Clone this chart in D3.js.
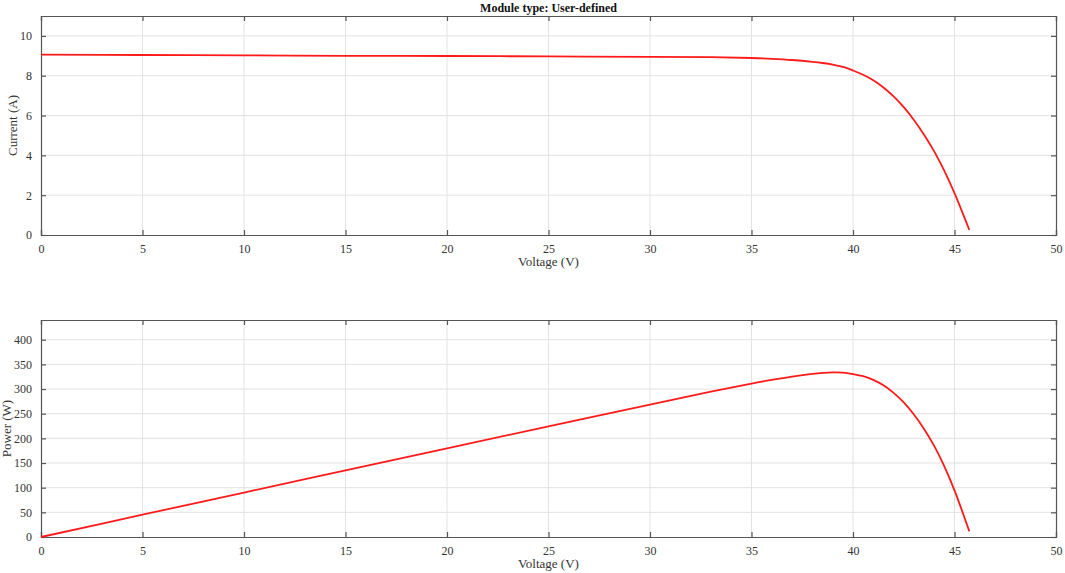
<!DOCTYPE html>
<html><head><meta charset="utf-8">
<script src="https://cdn.jsdelivr.net/npm/d3@7"></script>
<style>
body{margin:0;background:#fff;}
svg{display:block;font-family:"Liberation Serif","Times New Roman",serif;}
</style></head>
<body><svg id="c" width="1065" height="573"></svg>
<script>
const titleText = "Module type: User-defined";
const voltage = [0, 5, 10, 15, 20, 25, 30, 33, 35, 36, 37, 38, 38.5, 39, 39.5, 40, 40.5, 41, 41.5, 42, 42.5, 43, 43.5, 44, 44.5, 45, 45.73];
const current = [9.06, 9.04, 9.02, 9.0, 8.99, 8.97, 8.95, 8.93, 8.89, 8.85, 8.79, 8.7, 8.64, 8.56, 8.44, 8.26, 8.05, 7.77, 7.41, 6.96, 6.42, 5.78, 5.04, 4.2, 3.22, 2.1, 0.25];
const power   = [0, 45.2, 90.2, 135, 179.8, 224.3, 268.5, 294.7, 311.2, 318.6, 325.2, 330.6, 332.6, 333.8, 333.4, 330.4, 326, 318.6, 307.5, 292.3, 272.9, 248.5, 219.2, 184.8, 143.3, 94.5, 11.4];
const xTicks = [0, 5, 10, 15, 20, 25, 30, 35, 40, 45, 50];
const iTicks = [0, 2, 4, 6, 8, 10];
const pTicks = [0, 50, 100, 150, 200, 250, 300, 350, 400];

const svg = d3.select("#c");
const L = 41, R = 1056;
const x = d3.scaleLinear().domain([0, 50]).range([L, R]);

function panel(top, bottom, yDomain, yTicks, yLabel, vals, yLabelX){
  const y = d3.scaleLinear().domain(yDomain).range([bottom, top]);
  const g = svg.append("g");
  g.selectAll(".gx").data(xTicks.slice(1, -1)).enter().append("line")
    .attr("x1", d => x(d)).attr("x2", d => x(d)).attr("y1", top).attr("y2", bottom)
    .attr("stroke", "#e3e3e3").attr("stroke-width", 1);
  g.selectAll(".gy").data(yTicks.slice(1)).enter().append("line")
    .attr("x1", L).attr("x2", R).attr("y1", d => y(d)).attr("y2", d => y(d))
    .attr("stroke", "#e3e3e3").attr("stroke-width", 1);
  const axB = d3.axisBottom(x).tickValues(xTicks).tickSize(-5).tickPadding(9).tickFormat(d3.format("d"));
  const axT = d3.axisTop(x).tickValues(xTicks).tickSize(-5).tickFormat("");
  const axL = d3.axisLeft(y).tickValues(yTicks).tickSize(-5).tickPadding(9).tickFormat(d3.format("d"));
  const axR = d3.axisRight(y).tickValues(yTicks).tickSize(-5).tickFormat("");
  [[axB, `translate(0,${bottom})`], [axT, `translate(0,${top})`], [axL, `translate(${L},0)`], [axR, `translate(${R},0)`]].forEach(([ax, tr]) => {
    const a = g.append("g").attr("transform", tr).call(ax);
    a.select(".domain").attr("stroke", "#555").attr("stroke-width", 1.2);
    a.selectAll(".tick line").attr("stroke", "#555").attr("stroke-width", 1.2);
    a.selectAll("text").attr("fill", "#333").style("font-size", "12px").style("font-family", "Liberation Serif, serif");
  });
  g.append("path").datum(voltage.map((v, i) => [v, vals[i]]))
    .attr("fill", "none").attr("stroke", "#ff1a1a").attr("stroke-width", 1.8)
    .attr("d", d3.line().x(d => x(d[0])).y(d => y(d[1])).curve(d3.curveCatmullRom.alpha(0.5)));
  g.append("text").attr("x", (L + R) / 2).attr("y", bottom + 31).attr("text-anchor", "middle")
    .attr("fill", "#333").style("font-size", "13px").text("Voltage (V)");
  g.append("text").attr("transform", `translate(${yLabelX},${(top + bottom) / 2}) rotate(-90)`)
    .attr("text-anchor", "middle").attr("fill", "#333").style("font-size", "13px").text(yLabel);
}

panel(16, 235, [0, 11], iTicks, "Current (A)", current, 17);
panel(320, 537, [0, 440], pTicks, "Power (W)", power, 11);

svg.append("text").attr("x", (L + R) / 2).attr("y", 12).attr("text-anchor", "middle")
  .attr("fill", "#111").style("font-size", "12px").style("font-weight", "bold").text(titleText);
</script></body></html>
